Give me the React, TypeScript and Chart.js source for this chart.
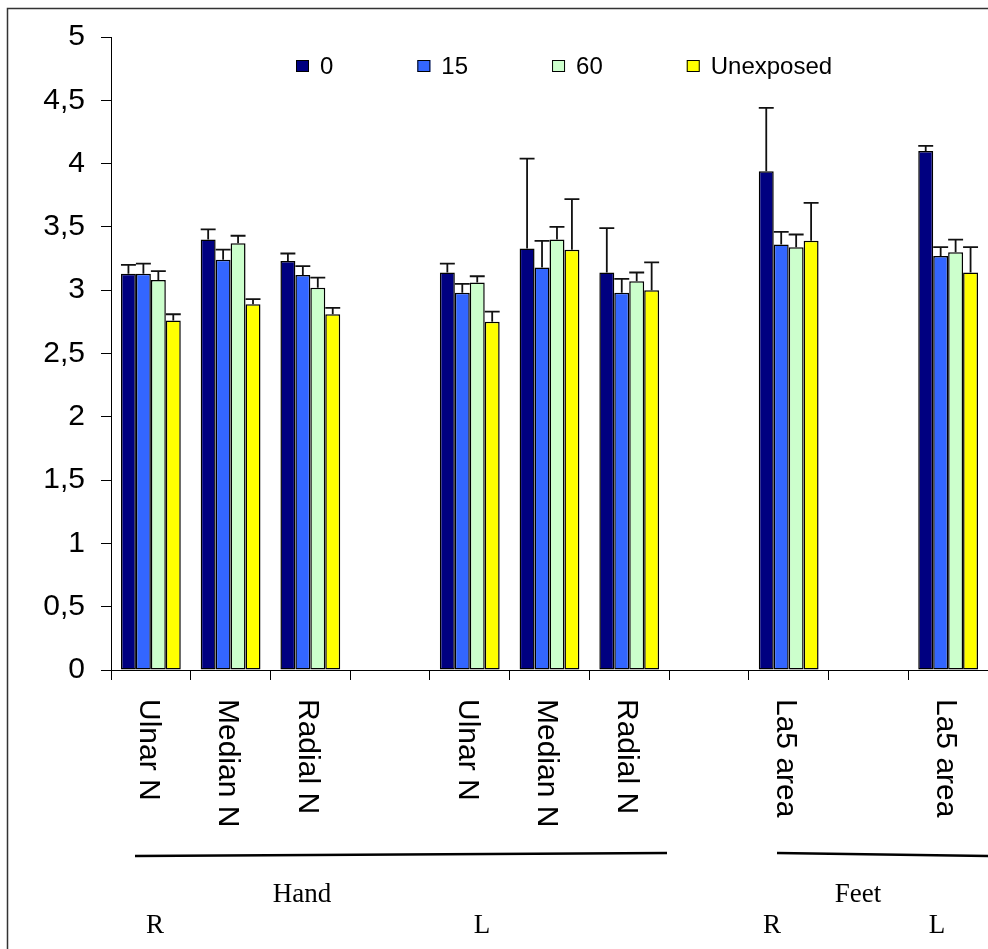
import React, { useEffect, useRef } from 'react';
import { Chart, registerables } from 'chart.js';

Chart.register(...registerables);

const categories = ['Ulnar N', 'Median N', 'Radial N', '', 'Ulnar N', 'Median N', 'Radial N', '', 'La5 area', '', 'La5 area'];
const seriesLabels = ['0', '15', '60', 'Unexposed'];
const seriesColors = ['#000080', '#3366FF', '#CCFFCC', '#FFFF00'];

const values0 = [3.13, 3.40, 3.23, null, 3.14, 3.33, 3.14, null, 3.94, null, 4.10];
const values15 = [3.13, 3.24, 3.12, null, 2.98, 3.18, 2.98, null, 3.36, null, 3.27];
const values60 = [3.08, 3.37, 3.02, null, 3.06, 3.40, 3.07, null, 3.34, null, 3.30];
const valuesUnexposed = [2.76, 2.89, 2.81, null, 2.75, 3.32, 3.00, null, 3.39, null, 3.14];

const err0 = [0.07, 0.08, 0.06, null, 0.07, 0.71, 0.35, null, 0.50, null, 0.04];
const err15 = [0.08, 0.08, 0.07, null, 0.07, 0.21, 0.11, null, 0.10, null, 0.07];
const err60 = [0.07, 0.06, 0.08, null, 0.05, 0.10, 0.07, null, 0.10, null, 0.10];
const errUnexposed = [0.05, 0.04, 0.05, null, 0.08, 0.40, 0.22, null, 0.30, null, 0.20];

const yTicks = [0, 0.5, 1, 1.5, 2, 2.5, 3, 3.5, 4, 4.5, 5];
const groupLabels = ['Hand', 'Feet'];
const sideLabels = ['R', 'L', 'R', 'L'];

const seriesValues = [values0, values15, values60, valuesUnexposed];
const seriesErrors = [err0, err15, err60, errUnexposed];

const SANS = "'Liberation Sans', Arial, sans-serif";
const SERIF = "'Liberation Serif', 'Times New Roman', serif";

const decorPlugin = {
  id: 'decor',
  afterDatasetsDraw(chart: any) {
    const ctx = chart.ctx;
    const ys = chart.scales.y;
    ctx.save();
    ctx.strokeStyle = '#111';
    ctx.lineWidth = 1.8;
    seriesErrors.forEach((errs, di) => {
      const meta = chart.getDatasetMeta(di);
      errs.forEach((e, i) => {
        const v = seriesValues[di][i];
        if (e == null || v == null) return;
        const el = meta.data[i];
        const top = ys.getPixelForValue(v + e);
        const half = el.width / 2;
        ctx.beginPath();
        ctx.moveTo(el.x, el.y);
        ctx.lineTo(el.x, top);
        ctx.moveTo(el.x - half, top);
        ctx.lineTo(el.x + half, top);
        ctx.stroke();
      });
    });
    ctx.restore();
  },
  afterDraw(chart: any) {
    const ctx = chart.ctx;
    const xs = chart.scales.x;
    ctx.save();
    // frame
    ctx.strokeStyle = '#333';
    ctx.lineWidth = 1.5;
    ctx.beginPath();
    ctx.moveTo(7.5, 960);
    ctx.lineTo(7.5, 8.5);
    ctx.lineTo(1000, 8.5);
    ctx.stroke();

    // rotated category labels
    ctx.fillStyle = '#000';
    ctx.font = `30px ${SANS}`;
    categories.forEach((lab, i) => {
      if (!lab) return;
      const x = xs.getPixelForValue(i) - 3;
      ctx.save();
      ctx.translate(x, xs.top + 29);
      ctx.rotate(Math.PI / 2);
      ctx.textAlign = 'left';
      ctx.textBaseline = 'middle';
      ctx.fillText(lab, 0, 0);
      ctx.restore();
    });

    // legend
    ctx.font = `24px ${SANS}`;
    ctx.textAlign = 'left';
    ctx.textBaseline = 'middle';
    let lx = 296;
    const ly = 66;
    chart.data.datasets.forEach((ds: any) => {
      ctx.fillStyle = ds.backgroundColor;
      ctx.fillRect(lx, ly - 6, 13, 12);
      ctx.strokeStyle = '#000';
      ctx.lineWidth = 1;
      ctx.strokeRect(lx + 0.5, ly - 5.5, 12, 11);
      ctx.fillStyle = '#000';
      ctx.fillText(ds.label, lx + 24, ly + 1);
      lx += 24 + ctx.measureText(ds.label).width + 84;
    });

    // group lines
    ctx.strokeStyle = '#000';
    ctx.lineWidth = 2.5;
    ctx.beginPath();
    ctx.moveTo(135, 856);
    ctx.lineTo(667, 853);
    ctx.moveTo(777, 853);
    ctx.lineTo(990, 856);
    ctx.stroke();

    // group and side labels
    ctx.font = `27px ${SERIF}`;
    ctx.textAlign = 'center';
    ctx.textBaseline = 'middle';
    const groupX = [302, 858];
    groupLabels.forEach((g, i) => ctx.fillText(g, groupX[i], 895));
    const sideX = [155, 482, 772, 937];
    sideLabels.forEach((s, i) => ctx.fillText(s, sideX[i], 926));
    ctx.restore();
  },
};

export default function App() {
  const ref = useRef<HTMLCanvasElement>(null);
  useEffect(() => {
    if (!ref.current) return;
    const chart = new Chart(ref.current, {
      type: 'bar',
      data: {
        labels: categories,
        datasets: seriesLabels.map((label, i) => ({
          label,
          data: seriesValues[i],
          backgroundColor: seriesColors[i],
          borderColor: '#000',
          borderWidth: 1.5,
          borderSkipped: false,
          categoryPercentage: 0.75,
          barPercentage: 1,
        })),
      },
      options: {
        animation: false,
        responsive: false,
        devicePixelRatio: 1,
        layout: { padding: { left: 0, right: 0, top: 37, bottom: 0 } },
        plugins: { legend: { display: false }, tooltip: { enabled: false } },
        scales: {
          x: {
            afterFit: (s: any) => { s.height = 279; },
            ticks: { display: false },
            grid: { offset: true, drawOnChartArea: false, drawTicks: true, tickLength: 10, color: '#000' },
            border: { display: true, color: '#000', width: 1 },
          },
          y: {
            min: 0,
            max: 5,
            afterFit: (s: any) => { s.width = 111; },
            afterBuildTicks: (s: any) => { s.ticks = yTicks.map((v) => ({ value: v })); },
            ticks: {
              font: { family: SANS, size: 30 },
              color: '#000',
              padding: 16,
              callback: (v: any) => String(v).replace('.', ','),
            },
            grid: { drawOnChartArea: false, drawTicks: true, tickLength: 10, color: '#000' },
            border: { display: true, color: '#000', width: 1 },
          },
        },
      },
      plugins: [decorPlugin],
    });
    return () => chart.destroy();
  }, []);
  return (
    <div style={{ position: 'absolute', left: 0, top: 0, width: 988, height: 949, overflow: 'hidden', background: '#fff' }}>
      <canvas ref={ref} width={988} height={949} style={{ width: 988, height: 949, display: 'block' }} />
    </div>
  );
}
